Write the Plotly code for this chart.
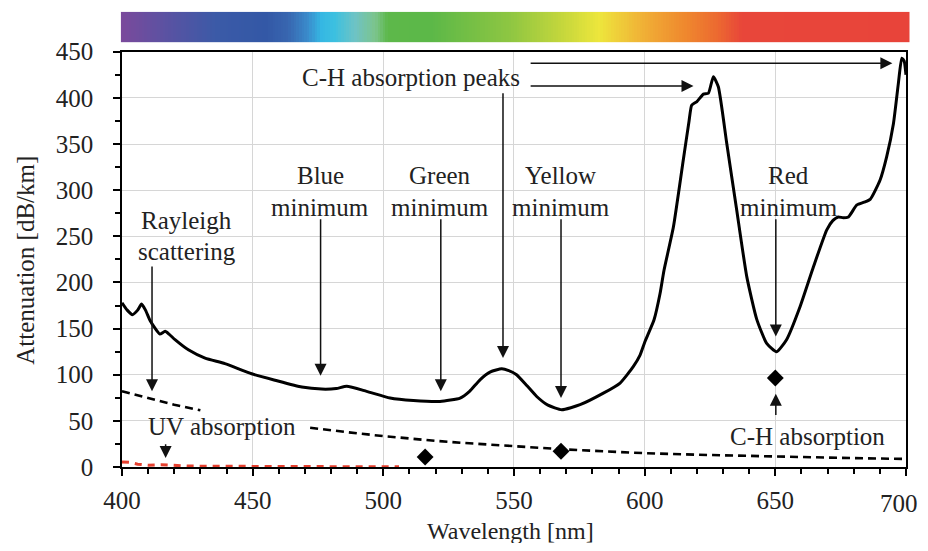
import numpy as np
import plotly.graph_objects as go

# ---------------- data ----------------
wl_att = [400, 402, 404, 406, 407.5, 409, 410.7, 412.5, 414.5, 416.5, 418, 420.3, 425.4, 431.8,
          439.4, 449.6, 458.6, 468.8, 476.4, 482, 486, 493.6, 502.6, 511.5, 521.7, 529.4, 533,
          537, 541, 545.3, 548, 551, 555, 558.7, 563, 568.3, 575.3, 584.2, 590.6, 595.7, 598.2,
          600, 603.6, 605.9, 607.4, 611, 614.8, 617, 618, 620, 622.5, 624.4, 626.3, 628.2, 631.4,
          635.2, 639.1, 642.9, 646.7, 650.5, 654.3, 659.5, 664.6, 669.7, 672, 674.1, 676, 678,
          681.2, 684, 686.3, 690.1, 692.6, 695.2, 697.1, 698.4, 699.3, 700]
att = [178, 170, 165, 170, 176.5, 170, 159, 151, 144, 147, 144, 138, 127, 118,
       112, 101, 94, 86.6, 84.4, 85, 87.5, 82, 74.7, 72, 71, 74.7, 82,
       94.5, 103, 106.4, 104.5, 100, 88, 76.4, 67, 62, 67.5, 80, 91, 109, 121,
       135, 159.5, 188, 213, 260, 333, 375, 392, 396, 404, 405, 423, 412, 351,
       279, 206, 160, 134, 125, 138, 174, 217, 257, 267, 271, 270, 271,
       284, 287, 290, 311, 336, 372, 416, 443, 440, 425]

wl_rayleigh = [400, 410, 420, 430, None, 472, 480, 490, 500, 510, 520, 530, 540, 550, 560, 570,
               580, 590, 600, 620, 640, 660, 680, 700]
rayleigh = [82, 74.5, 67.5, 61.5, None, 42.5, 39.5, 36.5, 33.5, 30.8, 28.3, 26.2, 24.2, 22.4,
            20.6, 19.0, 17.6, 16.2, 15.0, 13.3, 11.8, 10.6, 9.6, 8.7]

wl_uv = [400, 403, 406, 410, 415, 418, 425, 435, 450, 470, 490, 506]
uv = [5.5, 5, 3, 2, 2.5, 2, 1, 0.8, 0.5, 0.4, 0.3, 0.2]

wl_ch = [516, 568, 650]
ch = [10.8, 17, 96.5]

x_ticks = [400, 450, 500, 550, 600, 650, 700]
x_ticktext = ["400", "450", "500", "550", "600", "650", "700"]
y_ticks = [0, 50, 100, 150, 200, 250, 300, 350, 400, 450]

# spectrum bar stops (wavelength, colour)
spec_nm = [400, 417, 436, 455, 463.5, 471, 476, 481, 489, 496.6, 501.5, 518, 548,
           567, 582, 588.6, 601, 614, 627, 636.5, 700]
spec_col = ["#7a4a9c", "#5a52a2", "#3b5aa7", "#3358a6", "#3866b0", "#3a8ccc", "#35b7e3",
            "#3cc0e0", "#6ec3c4", "#7cc48c", "#5db84a", "#5cb848", "#8ec642",
            "#c2d63c", "#ede63c", "#efd03a", "#f0aa35", "#ef8a2e", "#ec6a30", "#e8463a", "#e8443a"]

# ---------------- figure ----------------
FONT = "Liberation Serif, Times New Roman, serif"
TXT = "#222222"
fig = go.Figure()

# spectrum bar
bar_x = np.linspace(400, 700, 301)
cscale = [[(n - 400) / 300.0, c] for n, c in zip(spec_nm, spec_col)]
fig.add_trace(go.Heatmap(x=bar_x, y=[0], z=[bar_x], colorscale=cscale, zmin=400, zmax=700,
                         showscale=False, hoverinfo="skip", xaxis="x2", yaxis="y2"))

fig.add_trace(go.Scatter(x=wl_uv, y=uv, mode="lines",
                         line=dict(color="#e5402f", width=3, dash="7px,6px"), showlegend=False))
fig.add_trace(go.Scatter(x=wl_rayleigh, y=rayleigh, mode="lines", connectgaps=False,
                         line=dict(color="black", width=2.6, dash="8px,5px"), showlegend=False))
fig.add_trace(go.Scatter(x=wl_att, y=att, mode="lines",
                         line=dict(color="black", width=3, shape="spline", smoothing=0.5),
                         showlegend=False))
fig.add_trace(go.Scatter(x=wl_ch, y=ch, mode="markers",
                         marker=dict(symbol="diamond", size=13, color="black"), showlegend=False))

annotations = []


def arrow(x, y, ax, ay):
    annotations.append(dict(x=x, y=y, ax=ax, ay=ay, xref="x", yref="y", axref="x", ayref="y",
                            text="", showarrow=True, arrowhead=2, arrowsize=1.6,
                            arrowwidth=1.5, arrowcolor="#111111"))


def label(x, y, text):
    annotations.append(dict(x=x, y=y, xref="x", yref="y", text=text, showarrow=False,
                            font=dict(family=FONT, size=25, color=TXT),
                            xanchor="center", yanchor="middle"))


arrow(411.5, 82, 411.5, 219)
arrow(476, 99, 476, 270)
arrow(522, 82, 522, 270)
arrow(545.8, 118, 545.8, 406.7)
arrow(618.7, 412.8, 555.8, 412.8)
arrow(694.8, 437.4, 555.8, 437.4)
arrow(568, 74.7, 568, 270)
arrow(650.2, 141.4, 650.2, 270)
arrow(650.2, 79.4, 650.2, 54.8)
arrow(416.7, 9.7, 416.7, 26.3)

label(424.8, 267, "Rayleigh")
label(424.8, 233.4, "scattering")
label(475.8, 316, "Blue")
label(475.8, 281.5, "minimum")
label(521.7, 316, "Green")
label(521.7, 281.5, "minimum")
label(567.9, 316, "Yellow")
label(567.9, 281.5, "minimum")
label(655.1, 316, "Red")
label(655.1, 281.5, "minimum")
label(510.5, 422.3, "C-H absorption peaks")
label(438.2, 44, "UV absorption")
label(662.3, 33.1, "C-H absorption")

# last x tick label drawn as text so it stays inside the page
annotations.append(dict(x=x_ticks[-1], y=-0.079, xref="x", yref="paper", text=x_ticktext[-1],
                        showarrow=False, xanchor="right", yanchor="middle", xshift=14,
                        font=dict(family=FONT, size=25, color=TXT)))

annotations.append(dict(x=-0.119, y=0.4546, xref="paper", yref="paper", text="Attenuation [dB/km]",
                        textangle=-90, showarrow=False, xanchor="center", yanchor="middle",
                        font=dict(family=FONT, size=25, color=TXT)))
annotations.append(dict(x=0.4937, y=-0.1395, xref="paper", yref="paper", text="Wavelength [nm]",
                        showarrow=False, xanchor="center", yanchor="middle",
                        font=dict(family=FONT, size=24, color=TXT)))

axis_common = dict(showline=True, linecolor="black", linewidth=1.5, mirror=True,
                   showgrid=True, gridcolor="#d6d6d6", gridwidth=1, zeroline=False,
                   ticks="outside", tickcolor="black", tickwidth=1.5, ticklen=7,
                   automargin=False,
                   tickfont=dict(family=FONT, size=25, color=TXT))

# the page body adds an 8px offset; keep the figure inside the window (912x535)
fig.update_layout(
    template="none",
    width=912, height=535,
    margin=dict(l=112, r=10, t=3, b=76, autoexpand=False),
    paper_bgcolor="white", plot_bgcolor="white",
    showlegend=False,
    xaxis=dict(axis_common, range=[400, 700], domain=[0.0025, 0.9949],
               tickvals=x_ticks, ticktext=x_ticktext[:-1] + [""],
               minor=dict(dtick=10, tick0=400, ticks="outside", ticklen=5, tickcolor="black",
                          tickwidth=1.5, showgrid=False),
               ticklabelstandoff=3),
    yaxis=dict(axis_common, range=[0, 450], domain=[0, 0.9107],
               tickvals=y_ticks, ticktext=[str(v) for v in y_ticks],
               minor=dict(dtick=25, tick0=0, ticks="outside", ticklen=5, tickcolor="black",
                          tickwidth=1.5, showgrid=False),
               ticklabelstandoff=15),
    xaxis2=dict(domain=[0.0009, 0.9996], anchor="y2", range=[399.5, 700.5], visible=False,
                fixedrange=True, automargin=False),
    yaxis2=dict(domain=[0.9314, 0.9985], anchor="x2", range=[-0.5, 0.5], visible=False,
                fixedrange=True, automargin=False),
    annotations=annotations,
)

fig.write_html("out.html")
